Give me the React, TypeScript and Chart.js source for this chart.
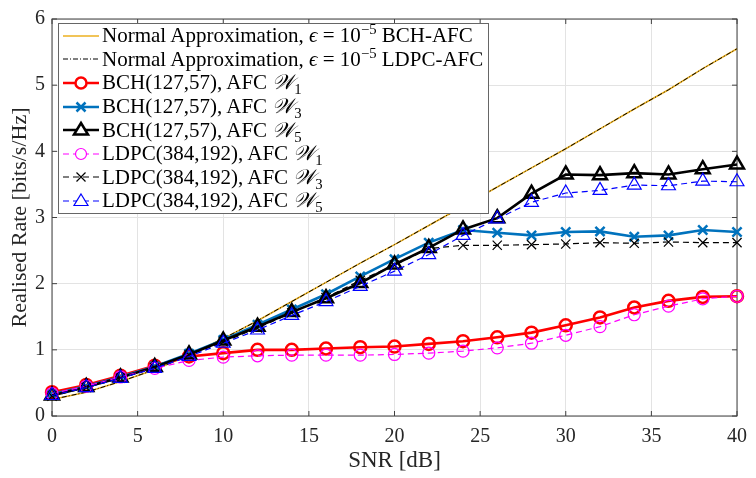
import { useEffect, useRef } from "react";
import { Chart, registerables } from "chart.js";

Chart.register(...registerables);

// SNR points in dB
const snr = [0, 2, 4, 6, 8, 10, 12, 14, 16, 18, 20, 22, 24, 26, 28, 30, 32, 34, 36, 38, 40];

const normalBch = [0.25, 0.36, 0.52, 0.7, 0.92, 1.17, 1.44, 1.73, 2.02, 2.31, 2.59, 2.88, 3.17, 3.46, 3.75, 4.04, 4.34, 4.64, 4.93, 5.25, 5.55];
const normalLdpc = [0.25, 0.36, 0.52, 0.7, 0.92, 1.17, 1.44, 1.73, 2.02, 2.31, 2.59, 2.88, 3.17, 3.46, 3.75, 4.04, 4.34, 4.64, 4.93, 5.25, 5.55];
const bchW1 = [0.36, 0.47, 0.61, 0.76, 0.9, 0.95, 1.0, 1.0, 1.02, 1.04, 1.05, 1.09, 1.13, 1.19, 1.26, 1.37, 1.49, 1.64, 1.74, 1.8, 1.81];
const bchW3 = [0.33, 0.45, 0.59, 0.75, 0.94, 1.15, 1.38, 1.61, 1.84, 2.11, 2.37, 2.62, 2.81, 2.77, 2.73, 2.78, 2.79, 2.71, 2.73, 2.81, 2.78];
const bchW5 = [0.31, 0.44, 0.58, 0.74, 0.93, 1.14, 1.35, 1.57, 1.78, 2.01, 2.29, 2.54, 2.82, 2.99, 3.36, 3.65, 3.64, 3.67, 3.65, 3.73, 3.8];
const ldpcW1 = [0.34, 0.45, 0.59, 0.72, 0.84, 0.89, 0.91, 0.92, 0.92, 0.92, 0.93, 0.95, 0.98, 1.03, 1.1, 1.22, 1.35, 1.53, 1.66, 1.77, 1.81];
const ldpcW3 = [0.3, 0.43, 0.57, 0.73, 0.92, 1.12, 1.33, 1.56, 1.79, 2.05, 2.28, 2.53, 2.58, 2.58, 2.59, 2.6, 2.62, 2.61, 2.63, 2.62, 2.62];
const ldpcW5 = [0.31, 0.43, 0.57, 0.72, 0.9, 1.1, 1.3, 1.52, 1.73, 1.96, 2.19, 2.44, 2.73, 2.98, 3.23, 3.37, 3.41, 3.49, 3.48, 3.55, 3.54];

const xTicks = [0, 5, 10, 15, 20, 25, 30, 35, 40];
const yTicks = [0, 1, 2, 3, 4, 5, 6];

const FONT = "'Liberation Serif', 'Times New Roman', serif";
const AXIS = "#404040";

type Series = {
  label: string;
  values: number[];
  color: string;
  width: number;
  dash: number[];
  marker: string | false;
  radius: number;
  markerWidth: number;
};

const series: Series[] = [
  { label: "nbch", values: normalBch, color: "#EDB120", width: 1.6, dash: [], marker: false, radius: 0, markerWidth: 0 },
  { label: "nldpc", values: normalLdpc, color: "#000000", width: 1, dash: [5, 2, 1, 2], marker: false, radius: 0, markerWidth: 0 },
  { label: "bch1", values: bchW1, color: "#FF0000", width: 2.6, dash: [], marker: "circle", radius: 6, markerWidth: 2.5 },
  { label: "bch3", values: bchW3, color: "#0072BD", width: 2.6, dash: [], marker: "crossRot", radius: 6.5, markerWidth: 2.5 },
  { label: "bch5", values: bchW5, color: "#000000", width: 2.6, dash: [], marker: "triangle", radius: 8, markerWidth: 2.5 },
  { label: "ldpc1", values: ldpcW1, color: "#FF00FF", width: 1.2, dash: [6, 4], marker: "circle", radius: 6, markerWidth: 1.2 },
  { label: "ldpc3", values: ldpcW3, color: "#000000", width: 1.2, dash: [6, 4], marker: "crossRot", radius: 6.5, markerWidth: 1.2 },
  { label: "ldpc5", values: ldpcW5, color: "#0000FF", width: 1.2, dash: [6, 4], marker: "triangle", radius: 8, markerWidth: 1.2 },
];

// box round the plot with inward ticks, like matlab
const boxPlugin = {
  id: "box",
  beforeDatasetsDraw(chart: any) {
    const { ctx, chartArea, scales } = chart;
    const { left, right, top, bottom } = chartArea;
    ctx.save();
    ctx.strokeStyle = AXIS;
    ctx.lineWidth = 1;
    ctx.strokeRect(left, top, right - left, bottom - top);
    ctx.beginPath();
    xTicks.forEach((t) => {
      const px = scales.x.getPixelForValue(t);
      ctx.moveTo(px, bottom);
      ctx.lineTo(px, bottom - 5);
      ctx.moveTo(px, top);
      ctx.lineTo(px, top + 5);
    });
    yTicks.forEach((t) => {
      const py = scales.y.getPixelForValue(t);
      ctx.moveTo(left, py);
      ctx.lineTo(left + 5, py);
      ctx.moveTo(right, py);
      ctx.lineTo(right - 5, py);
    });
    ctx.stroke();
    ctx.restore();
  },
};

const Sample = ({ s }: { s: Series }) => {
  const c = s.color;
  const w = s.markerWidth;
  let mark = null;
  if (s.marker === "circle") mark = <circle cx={19} cy={10} r={5.5} fill="#fff" stroke={c} strokeWidth={w} />;
  if (s.marker === "crossRot")
    mark = (
      <path d="M14.5 5.5 L23.5 14.5 M23.5 5.5 L14.5 14.5" stroke={c} strokeWidth={w} />
    );
  if (s.marker === "triangle") mark = <polygon points="19,3 26,14.5 12,14.5" fill="#fff" stroke={c} strokeWidth={w} />;
  return (
    <svg width={38} height={20} style={{ display: "block" }}>
      <line x1={1} y1={10} x2={37} y2={10} stroke={c} strokeWidth={s.width} strokeDasharray={s.dash.length ? s.dash.join(" ") : undefined} />
      {mark}
    </svg>
  );
};

const sup = { fontSize: "0.7em", verticalAlign: "super", lineHeight: 0 } as const;
const sub = { fontSize: "0.7em", verticalAlign: "sub", lineHeight: 0 } as const;

const W = (n: number) => (
  <span>
    <i>𝒲</i>
    <span style={sub}>{n}</span>
  </span>
);

const legendTexts = [
  <span>Normal Approximation, <i>ϵ</i> = 10<span style={sup}>−5</span> BCH-AFC</span>,
  <span>Normal Approximation, <i>ϵ</i> = 10<span style={sup}>−5</span> LDPC-AFC</span>,
  <span>BCH(127,57), AFC {W(1)}</span>,
  <span>BCH(127,57), AFC {W(3)}</span>,
  <span>BCH(127,57), AFC {W(5)}</span>,
  <span>LDPC(384,192), AFC {W(1)}</span>,
  <span>LDPC(384,192), AFC {W(3)}</span>,
  <span>LDPC(384,192), AFC {W(5)}</span>,
];

export default function App() {
  const canvasRef = useRef<HTMLCanvasElement | null>(null);

  useEffect(() => {
    document.body.style.margin = "0";
    if (!canvasRef.current) return;
    const n = series.length;
    const chart = new Chart(canvasRef.current, {
      type: "line",
      data: {
        datasets: series.map((s, i) => ({
          label: s.label,
          data: snr.map((x, j) => ({ x, y: s.values[j] })),
          borderColor: s.color,
          borderWidth: s.width,
          borderDash: s.dash,
          pointStyle: s.marker === false ? false : (s.marker as any),
          pointRadius: s.radius,
          pointBorderWidth: s.markerWidth,
          pointBorderColor: s.color,
          pointBackgroundColor: "rgba(0,0,0,0)",
          pointHoverRadius: s.radius,
          fill: false,
          tension: 0,
          clip: false as any,
          order: n - i,
        })),
      },
      options: {
        animation: false,
        responsive: false,
        maintainAspectRatio: false,
        layout: { padding: { top: 14, right: 16, left: 0, bottom: 0 } },
        plugins: { legend: { display: false }, tooltip: { enabled: false } },
        scales: {
          x: {
            type: "linear",
            min: 0,
            max: 40,
            afterFit: (sc: any) => {
              sc.height = 62;
            },
            afterBuildTicks: (sc: any) => {
              sc.ticks = xTicks.map((v) => ({ value: v }));
            },
            grid: { color: "#e3e3e3", drawTicks: false },
            border: { display: false },
            ticks: { color: "#262626", padding: 9, font: { family: FONT, size: 20 }, maxRotation: 0 },
            title: {
              display: true,
              text: "SNR [dB]",
              color: "#262626",
              font: { family: FONT, size: 23, lineHeight: 1 },
              padding: { top: 0, bottom: 6 },
            },
          },
          y: {
            type: "linear",
            min: 0,
            max: 6,
            afterFit: (sc: any) => {
              sc.width = 52;
            },
            afterBuildTicks: (sc: any) => {
              sc.ticks = yTicks.map((v) => ({ value: v }));
            },
            grid: { color: "#e3e3e3", drawTicks: false },
            border: { display: false },
            ticks: { color: "#262626", padding: 7, font: { family: FONT, size: 20 } },
            title: {
              display: true,
              text: "Realised Rate [bits/s/Hz]",
              color: "#262626",
              font: { family: FONT, size: 22, lineHeight: 1 },
              padding: { top: 9, bottom: 0 },
            },
          },
        },
      },
      plugins: [boxPlugin],
    });
    return () => chart.destroy();
  }, []);

  return (
    <div style={{ position: "relative", width: 756, height: 478, background: "#fff" }}>
      <canvas ref={canvasRef} width={756} height={478} />
      <div
        style={{
          position: "absolute",
          left: 58,
          top: 23,
          width: 429,
          height: 189,
          background: "#fff",
          border: "1px solid #666",
          fontFamily: FONT,
          fontSize: 21,
          color: "#000",
        }}
      >
        {series.map((s, i) => (
          <div
            key={s.label}
            style={{ position: "absolute", left: 3, top: i * 23.6, height: 23.6, display: "flex", alignItems: "center", whiteSpace: "nowrap" }}
          >
            <Sample s={s} />
            <span style={{ marginLeft: 2, lineHeight: 1 }}>{legendTexts[i]}</span>
          </div>
        ))}
      </div>
    </div>
  );
}
